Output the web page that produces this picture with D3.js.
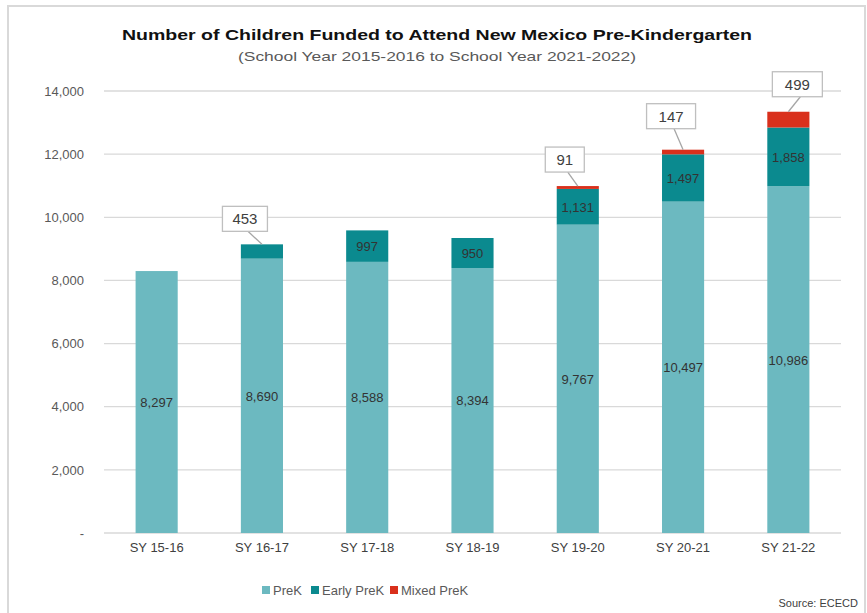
<!DOCTYPE html>
<html>
<head>
<meta charset="utf-8">
<script src="https://cdn.jsdelivr.net/npm/d3@7"></script>
<style>
  body { margin: 0; background: #fff; }
  svg { display: block; font-family: "Liberation Sans", Arial, sans-serif; }
</style>
</head>
<body>
<div id="chart"></div>
<script>
// data
const years = ["SY 15-16", "SY 16-17", "SY 17-18", "SY 18-19", "SY 19-20", "SY 20-21", "SY 21-22"];
const preK = [8297, 8690, 8588, 8394, 9767, 10497, 10986];
const earlyPreK = [0, 453, 997, 950, 1131, 1497, 1858];
const mixedPreK = [0, 0, 0, 0, 91, 147, 499];
const yTicks = [0, 2000, 4000, 6000, 8000, 10000, 12000, 14000];
const seriesNames = ["PreK", "Early PreK", "Mixed PreK"];

(function () {
  const width = 867;
  const height = 613;
  const colors = { "PreK": "#6cb9c0", "Early PreK": "#0b8a8f", "Mixed PreK": "#d9301c" };

  const svg = d3.select("#chart").append("svg")
    .attr("width", width)
    .attr("height", height);

  // outer frame
  svg.append("rect")
    .attr("x", 8).attr("y", 6)
    .attr("width", 857).attr("height", 620)
    .attr("fill", "#fff")
    .attr("stroke", "#d9d9d9")
    .attr("stroke-width", 2);

  // titles
  svg.append("text")
    .attr("x", 437).attr("y", 40)
    .attr("text-anchor", "middle")
    .attr("font-size", "15.5px")
    .attr("font-weight", "bold")
    .attr("fill", "#111")
    .attr("textLength", 630)
    .attr("lengthAdjust", "spacingAndGlyphs")
    .text("Number of Children Funded to Attend New Mexico Pre-Kindergarten");

  svg.append("text")
    .attr("x", 437).attr("y", 61)
    .attr("text-anchor", "middle")
    .attr("font-size", "13px")
    .attr("fill", "#595959")
    .attr("textLength", 398)
    .attr("lengthAdjust", "spacingAndGlyphs")
    .text("(School Year 2015-2016 to School Year 2021-2022)");

  const table = years.map((y, i) => ({
    year: y,
    "PreK": preK[i],
    "Early PreK": earlyPreK[i],
    "Mixed PreK": mixedPreK[i]
  }));

  const x = d3.scaleBand()
    .domain(years)
    .range([104, 841])
    .paddingInner(0.6)
    .paddingOuter(0.3);

  const y = d3.scaleLinear()
    .domain([0, 14000])
    .range([533, 91]);

  // gridlines
  svg.append("g")
    .selectAll("line")
    .data(yTicks)
    .join("line")
    .attr("x1", 104).attr("x2", 841)
    .attr("y1", (d) => y(d)).attr("y2", (d) => y(d))
    .attr("stroke", "#d9d9d9")
    .attr("stroke-width", 1.3);

  // y axis labels
  const yAxis = svg.append("g")
    .attr("transform", "translate(90,0)")
    .call(d3.axisLeft(y).tickValues(yTicks).tickSize(0).tickPadding(6)
      .tickFormat((d) => (d === 0 ? "-" : d3.format(",")(d))));
  yAxis.select(".domain").remove();
  yAxis.selectAll(".tick text")
    .attr("font-size", "13px")
    .attr("font-family", "Liberation Sans, Arial, sans-serif")
    .attr("fill", "#595959");

  // x axis labels
  const xAxis = svg.append("g")
    .attr("transform", "translate(0,533)")
    .call(d3.axisBottom(x).tickSize(0).tickPadding(10));
  xAxis.select(".domain").remove();
  xAxis.selectAll(".tick text")
    .attr("font-size", "13px")
    .attr("font-family", "Liberation Sans, Arial, sans-serif")
    .attr("fill", "#404040");

  // stacked bars
  const stacked = d3.stack().keys(seriesNames)(table);

  svg.append("g")
    .selectAll("g")
    .data(stacked)
    .join("g")
    .attr("fill", (d) => colors[d.key])
    .selectAll("rect")
    .data((d) => d)
    .join("rect")
    .attr("x", (d) => x(d.data.year))
    .attr("width", x.bandwidth())
    .attr("y", (d) => y(d[1]))
    .attr("height", (d) => y(d[0]) - y(d[1]));

  // inside labels
  const labelG = svg.append("g")
    .attr("font-size", "13px")
    .attr("fill", "#333")
    .attr("text-anchor", "middle");

  stacked.forEach((s) => {
    s.forEach((d, i) => {
      const v = d[1] - d[0];
      if (v <= 0) return;
      const inside = s.key === "PreK" || (s.key === "Early PreK" && v > 800);
      if (!inside) return;
      labelG.append("text")
        .attr("x", x(d.data.year) + x.bandwidth() / 2)
        .attr("y", (y(d[0]) + y(d[1])) / 2 + 5)
        .text(d3.format(",")(v));
    });
  });

  // callouts for small segments: [year index, series, dx of box, gap above bar, box width]
  const callouts = [
    [1, "Early PreK", -17, 13, 45],
    [4, "Mixed PreK", -13, 14, 39],
    [5, "Mixed PreK", -12, 21, 49],
    [6, "Mixed PreK", 9, 15, 50]
  ];

  const calloutG = svg.append("g");
  callouts.forEach(([i, key, dx, gap, bw]) => {
    const seg = stacked.find((s) => s.key === key)[i];
    const cx = x(years[i]) + x.bandwidth() / 2;
    const top = y(seg[1]);
    const bx = cx + dx;
    const bottom = top - gap;
    const bh = 25;
    calloutG.append("line")
      .attr("x1", bx + 3).attr("y1", bottom)
      .attr("x2", cx).attr("y2", top)
      .attr("stroke", "#a6a6a6")
      .attr("stroke-width", 1.3);
    calloutG.append("rect")
      .attr("x", bx - bw / 2).attr("y", bottom - bh)
      .attr("width", bw).attr("height", bh)
      .attr("fill", "#fff")
      .attr("stroke", "#bfbfbf")
      .attr("stroke-width", 1.3);
    calloutG.append("text")
      .attr("x", bx).attr("y", bottom - 7)
      .attr("text-anchor", "middle")
      .attr("font-size", "15px")
      .attr("fill", "#404040")
      .text(d3.format(",")(seg[1] - seg[0]));
  });

  // legend
  const legendPos = [262, 311, 390];
  const legend = svg.append("g")
    .selectAll("g")
    .data(seriesNames)
    .join("g")
    .attr("transform", (d, i) => `translate(${legendPos[i]},586)`);
  legend.append("rect")
    .attr("width", 8).attr("height", 8)
    .attr("fill", (d) => colors[d]);
  legend.append("text")
    .attr("x", 11).attr("y", 9)
    .attr("font-size", "13px")
    .attr("fill", "#595959")
    .text((d) => d);

  // source
  svg.append("text")
    .attr("x", 858).attr("y", 607)
    .attr("text-anchor", "end")
    .attr("font-size", "11px")
    .attr("fill", "#404040")
    .text("Source: ECECD");
})();
</script>
</body>
</html>
